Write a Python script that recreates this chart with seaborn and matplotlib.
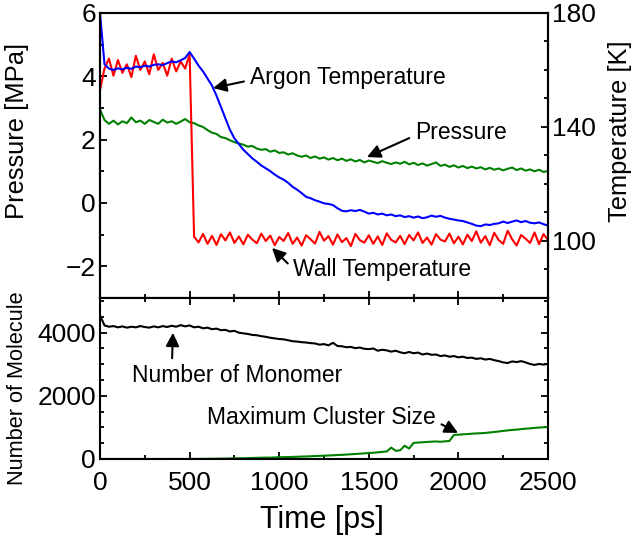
import numpy as np
import matplotlib
matplotlib.use("Agg")
import matplotlib.pyplot as plt
from matplotlib.ticker import MultipleLocator
import seaborn as sns

sns.set_theme(style="white")
plt.rcParams['font.family'] = ['Liberation Sans', 'DejaVu Sans']
plt.rcParams['text.color'] = 'black'
plt.rcParams['axes.labelcolor'] = 'black'
plt.rcParams['xtick.color'] = 'black'
plt.rcParams['ytick.color'] = 'black'

# time axis [ps], sampled every 25 ps
time_ps = list(range(0, 2501, 25))

pressure_mpa = [
    2.95, 2.62, 2.50, 2.60, 2.48, 2.58, 2.52, 2.70, 2.55, 2.60, 2.50, 2.62, 2.56, 2.50, 2.63, 2.54, 2.58, 2.50, 2.57, 2.65, 2.55,
    2.52, 2.45, 2.40, 2.30, 2.22, 2.18, 2.08, 2.05, 1.98, 1.92, 1.88, 1.84, 1.78, 1.80, 1.72, 1.68, 1.70, 1.62, 1.66, 1.58,
    1.60, 1.53, 1.57, 1.50, 1.46, 1.50, 1.42, 1.47, 1.40, 1.44, 1.37, 1.42, 1.35, 1.40, 1.33, 1.38, 1.31, 1.36, 1.28, 1.34,
    1.30, 1.26, 1.32, 1.27, 1.23, 1.28, 1.24, 1.30, 1.22, 1.27, 1.20, 1.25, 1.18, 1.23, 1.28, 1.17, 1.21, 1.14, 1.19, 1.12,
    1.17, 1.10, 1.15, 1.09, 1.13, 1.06, 1.11, 1.05, 1.09, 1.03, 1.08, 1.12, 1.04, 1.09, 1.02, 1.06, 1.00, 1.05, 0.98, 1.01,
]

argon_temp_k = [
    180.0, 162.0, 160.5, 160.0, 160.6, 160.2, 160.8, 160.4, 161.2, 161.0, 161.5, 161.2, 161.8, 162.0, 161.7, 162.4, 163.0, 162.7, 163.4, 164.2, 166.3,
    164.0, 161.5, 159.5, 157.0, 154.5, 151.0, 147.0, 143.0, 139.0, 136.0, 134.0, 132.0, 130.5, 129.0, 127.8, 126.5, 125.5, 124.5, 123.3, 122.3,
    121.5, 120.4, 119.0, 118.0, 116.8, 115.5, 115.0, 114.3, 113.8, 113.2, 113.0, 112.6, 111.5, 110.6, 110.4, 110.8, 110.5, 110.9, 110.3, 109.6,
    109.9, 109.3, 109.6, 109.0, 109.3, 108.7, 109.0, 108.4, 108.7, 108.2, 108.6, 108.0, 108.3, 108.9, 108.5, 108.8, 108.2, 107.8, 107.5, 107.2,
    107.0, 106.5, 106.0, 105.4, 105.2, 105.8, 105.6, 106.0, 106.2, 106.8, 106.3, 106.8, 107.2, 106.6, 107.0, 106.4, 106.2, 106.5, 105.9, 105.4,
]

wall_temp_k = [
    153.0, 160.5, 164.0, 158.0, 163.5, 159.0, 162.0, 157.5, 165.0, 160.0, 163.0, 158.5, 165.5, 160.0, 162.5, 158.0, 164.0, 159.5, 163.0, 160.5, 165.5,
    101.5, 99.5, 102.5, 99.0, 101.8, 98.6, 102.4, 100.2, 103.0, 99.3, 101.6, 98.8, 102.2, 100.5, 99.2, 102.6, 100.0, 101.9, 98.5, 101.4,
    100.0, 102.8, 99.0, 101.2, 98.4, 102.0, 100.6, 99.1, 103.2, 100.1, 101.7, 98.7, 102.3, 99.6, 101.0, 98.2, 102.5, 100.3, 99.4, 102.0,
    99.0, 101.6, 98.6, 102.7, 100.4, 99.5, 101.8, 98.9, 102.1, 100.2, 103.0, 99.3, 101.2, 98.7, 102.4, 100.5, 99.8, 102.6, 99.2, 101.5,
    98.8, 102.2, 100.0, 103.4, 99.4, 101.7, 98.5, 102.9, 100.3, 99.0, 103.6, 100.6, 98.4, 102.1, 100.8, 99.3, 103.0, 98.9, 102.4, 100.4,
]

monomer_count = [
    4550, 4230, 4190, 4210, 4170, 4200, 4160, 4190, 4170, 4210, 4180, 4160, 4200, 4170, 4210, 4180, 4220, 4190, 4240, 4200, 4230,
    4170, 4190, 4140, 4160, 4110, 4130, 4080, 4090, 4040, 4060, 4000, 3980, 3960, 3930, 3920, 3890, 3870, 3840, 3820, 3800,
    3790, 3760, 3730, 3720, 3700, 3690, 3670, 3660, 3620, 3640, 3600, 3680, 3580, 3570, 3540, 3550, 3510, 3530, 3490, 3480,
    3500, 3430, 3460, 3440, 3400, 3430, 3380, 3350, 3390, 3350, 3370, 3310, 3340, 3300, 3310, 3260, 3280, 3240, 3260, 3220,
    3240, 3200, 3210, 3170, 3190, 3150, 3170, 3130, 3100, 3060, 3040, 3090, 3070, 3100, 3060, 3010, 2980, 3010, 2990, 3010,
]

max_cluster_size = [
    0, 0, 0, 0, 0, 0, 0, 0, 0, 0, 0, 0, 0, 0, 0, 0, 2, 0, 3, 0, 2, 4, 3, 5,
    6, 10, 8, 14, 12, 18, 20, 24, 22, 30, 32, 36, 40, 44, 42, 50, 55,
    58, 60, 66, 70, 76, 80, 86, 92, 98, 104, 110, 118, 125, 132, 140, 150, 158, 168, 178, 190,
    198, 210, 225, 238, 360, 260, 275, 420, 330, 510, 520, 530, 540, 548, 555, 545, 560, 570, 760, 770,
    780, 790, 800, 810, 815, 825, 840, 855, 870, 890, 905, 920, 930, 945, 960, 970, 985, 995, 1005, 1010,
]

fig = plt.figure(figsize=(6.33, 5.41), dpi=100)
ax_p = fig.add_axes([0.158, 0.4492, 0.7077, 0.5268])
ax_t = ax_p.twinx()
ax_n = fig.add_axes([0.158, 0.1516, 0.7077, 0.2976])

lw = 1.5
sns.lineplot(x=time_ps, y=pressure_mpa, ax=ax_p, color='#008000', lw=lw, estimator=None)
sns.lineplot(x=time_ps, y=wall_temp_k, ax=ax_t, color='#ff0000', lw=lw, estimator=None)
sns.lineplot(x=time_ps, y=argon_temp_k, ax=ax_t, color='#0000ff', lw=lw, estimator=None)
sns.lineplot(x=time_ps, y=monomer_count, ax=ax_n, color='black', lw=lw, estimator=None)
sns.lineplot(x=time_ps, y=max_cluster_size, ax=ax_n, color='#008000', lw=lw, estimator=None)

ax_p.set_xlim(0, 2500)
ax_p.set_ylim(-3, 6)
ax_t.set_ylim(80, 180)
ax_n.set_xlim(0, 2500)
ax_n.set_ylim(0, 5100)

tick_fs = 19
for ax in (ax_p, ax_t, ax_n):
    for s in ax.spines.values():
        s.set_linewidth(1.5)
        s.set_color('black')
    ax.xaxis.set_major_locator(MultipleLocator(500))
    ax.xaxis.set_minor_locator(MultipleLocator(250))
    ax.tick_params(which='both', direction='in', width=1.3, colors='black',
                   labelsize=tick_fs, pad=3)
    ax.tick_params(which='major', length=5)
    ax.tick_params(which='minor', length=3)

ax_p.yaxis.set_major_locator(MultipleLocator(2))
ax_p.yaxis.set_minor_locator(MultipleLocator(1))
ax_p.tick_params(which='both', bottom=True, top=False, left=True, right=False, labelbottom=False)
ax_p.set_yticks([-2, 0, 2, 4, 6])
ax_p.set_yticklabels(['\u22122', '0', '2', '4', '6'])

ax_t.yaxis.set_major_locator(MultipleLocator(40))
ax_t.yaxis.set_minor_locator(MultipleLocator(10))
ax_t.set_yticks([100, 140, 180])
ax_t.tick_params(which='both', bottom=False, top=False, left=False, right=True)

ax_n.yaxis.set_major_locator(MultipleLocator(2000))
ax_n.yaxis.set_minor_locator(MultipleLocator(500))
ax_n.tick_params(which='both', bottom=True, top=True, left=True, right=True)
ax_n.tick_params(axis='x', which='major', pad=9)

ax_p.set_xlabel('')
ax_p.set_ylabel('Pressure [MPa]', fontsize=18.4)
ax_t.set_ylabel('Temperature [K]', fontsize=18.4)
ax_n.set_ylabel('Number of Molecule', fontsize=15.7)
ax_n.set_xlabel('Time [ps]', fontsize=22)
ax_p.yaxis.set_label_coords(-0.185, 0.586)
ax_t.yaxis.set_label_coords(1.161, 0.586)
ax_n.yaxis.set_label_coords(-0.185, 0.44)
ax_n.xaxis.set_label_coords(0.496, -0.379)
ax_p.yaxis.label.set_va('center')
ax_t.yaxis.label.set_va('center')
ax_n.yaxis.label.set_va('center')
ax_n.xaxis.label.set_va('center')

ann_fs = 16.5
arrow = dict(arrowstyle='-|>', color='black', lw=1.5, mutation_scale=20,
             shrinkA=2, shrinkB=0)
ax_p.annotate('Argon Temperature', xy=(631, 3.63), xytext=(837, 3.95),
              ha='left', va='center', fontsize=ann_fs,
              arrowprops=dict(arrow, relpos=(0, 0.4)))
ax_p.annotate('Pressure', xy=(1490, 1.45), xytext=(1758, 2.24),
              ha='left', va='center', fontsize=ann_fs,
              arrowprops=dict(arrow, relpos=(0, 0.35)))
ax_p.annotate('Wall Temperature', xy=(960, -1.42), xytext=(1077, -2.11),
              ha='left', va='center', fontsize=ann_fs,
              arrowprops=dict(arrow, relpos=(0, 0.55)))
ax_n.annotate('Number of Monomer', xy=(407, 4000), xytext=(765, 2635),
              ha='center', va='center', fontsize=ann_fs,
              arrowprops=dict(arrow, relpos=(0.19, 1.0)))
ax_n.annotate('Maximum Cluster Size', xy=(1998, 825), xytext=(597, 1302),
              ha='left', va='center', fontsize=ann_fs,
              arrowprops=dict(arrow, relpos=(1.0, 0.35)))

fig.savefig('out.png', dpi=100)
